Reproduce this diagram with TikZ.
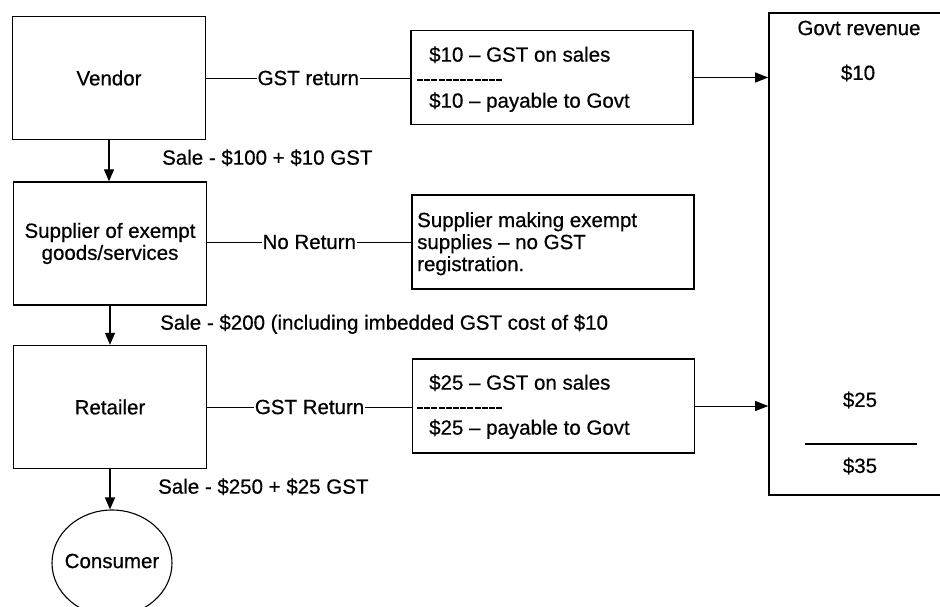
\documentclass[tikz,border=0pt]{standalone}
\usepackage{fontspec}
\setmainfont{Liberation Sans}[FakeBold=0.6]
\usetikzlibrary{arrows.meta,shapes.geometric}
\begin{document}
\begin{tikzpicture}[x=1pt,y=-1pt,
  every node/.style={font=\fontsize{20.5}{22}\selectfont, inner sep=0pt},
  party/.style={draw, line width=1.4pt, minimum width=193, minimum height=123, align=center},
  infobox/.style={draw, line width=1.2pt, minimum width=282, minimum height=94},
  conn/.style={line width=0.9pt},
  flow/.style={line width=1.3pt, -{Triangle[length=12pt,width=10pt]}},
  hflow/.style={line width=1pt, -{Triangle[length=13pt,width=10pt]}},
  lbl/.style={fill=white, inner xsep=1pt, inner ysep=2pt},
  txt/.style={anchor=mid west},
  sep/.style={line width=1.6pt, dash pattern=on 6pt off 1.2pt}
]
\useasboundingbox (0,0) rectangle (940,606);
\clip (0,0) rectangle (940,606);

% parties
\node[party] (vendor) at (109,78) {Vendor};
\node[party] (supplier) at (110,243.5) {Supplier of exempt\\goods/services};
\node[party] (retailer) at (110,407) {Retailer};
\node[draw, ellipse, line width=1.1pt, minimum width=120, minimum height=106] (consumer) at (112,563) {};
\node (consumertxt) at (112,561) {Consumer};

% info boxes
\node[infobox] (box1) at (552,77.5) {};
\node[infobox] (box2) at (553,242) {};
\node[infobox] (box3) at (553.5,406) {};

% Govt revenue box (right side runs past the edge)
\node[draw, line width=1.6pt, minimum width=200, minimum height=482] (govt) at (869,254) {};
\node (govttitle) at (859,28) {Govt revenue};
\node (g10) at (858,73) {\$10};
\node (g25) at (860,400) {\$25};
\node (g35) at (860,466) {\$35};
\coordinate (gl1) at (805,444);
\coordinate (gl2) at (917,444);
\draw[line width=1.4pt] (gl1) -- (gl2);

% box texts
\node[txt] (b1a) at (429,59) {\$10 -- GST on sales};
\node[txt] (b1b) at (429,105) {\$10 -- payable to Govt};
\coordinate (s1a) at (417,80);
\coordinate (s1b) at (502,80);
\draw[sep] (s1a) -- (s1b);

\node[align=left, anchor=north west] (b2t) at (417,212) {Supplier making exempt\\supplies -- no GST\\registration.};

\node[txt] (b3a) at (429,387) {\$25 -- GST on sales};
\node[txt] (b3b) at (429,432) {\$25 -- payable to Govt};
\coordinate (s3a) at (417,408);
\coordinate (s3b) at (503,408);
\draw[sep] (s3a) -- (s3b);

% horizontal connectors
\draw[conn] (vendor.east) -- node[lbl] (l1) {GST return} (vendor.east -| box1.west);
\draw[conn] (supplier.east |- box2.west) -- node[lbl] (l2) {No Return} (box2.west);
\draw[conn] (retailer.east) -- node[lbl] (l3) {GST Return} (retailer.east -| box3.west);

\draw[hflow] (box1.east) -- (box1.east -| govt.west);
\draw[hflow] (box3.east) -- (box3.east -| govt.west);

% vertical flows
\draw[flow] (vendor.south) -- (vendor.south |- supplier.north);
\draw[flow] (supplier.south) -- (supplier.south |- retailer.north);
\draw[flow] (retailer.south) -- (retailer.south |- consumer.north);

% sale labels
\node[txt] (sale1) at (162,162) {Sale - \$100 + \$10 GST};
\node[txt] (sale2) at (160,327) {Sale - \$200 (including imbedded GST cost of \$10};
\node[txt] (sale3) at (158,491) {Sale - \$250 + \$25 GST};
\end{tikzpicture}
\end{document}
